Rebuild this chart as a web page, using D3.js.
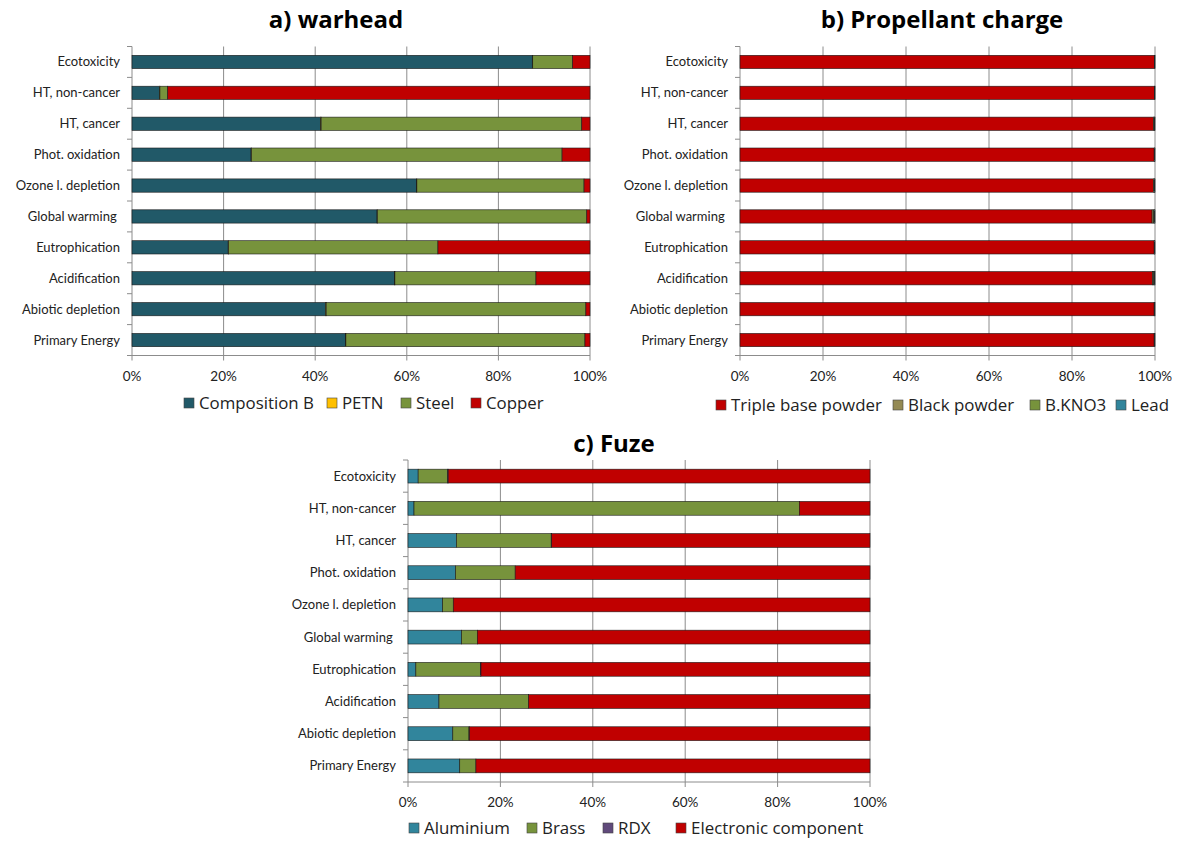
<!DOCTYPE html>
<html><head><meta charset="utf-8">
<script src="https://cdn.jsdelivr.net/npm/d3@7"></script>
<style>body{margin:0;background:#fff}svg{display:block}text{font-family:Lato,"Open Sans",sans-serif;fill:#222}</style>
</head><body>
<svg id="c" width="1177" height="841"></svg>
<script>
const categories = ["Ecotoxicity","HT, non-cancer","HT, cancer","Phot. oxidation","Ozone l. depletion","Global warming\u00a0","Eutrophication","Acidification","Abiotic depletion","Primary Energy"];
const tickLabels = ["0%","20%","40%","60%","80%","100%"];
const tickValues = [0,20,40,60,80,100];

// a) warhead
const warheadSeries = ["Composition B","PETN","Steel","Copper"];
const warheadColors = ["#215968","#FFC000","#77933C","#C00000"];
const compB  = [87.4, 6.0, 41.2, 26.0, 62.1, 53.5, 21.0, 57.3, 42.3, 46.6];
const petn   = [0.1, 0.1, 0.1, 0.1, 0.1, 0.1, 0.1, 0.1, 0.1, 0.1];
const steel  = [8.7, 1.7, 56.9, 67.8, 36.5, 45.7, 45.7, 30.8, 56.7, 52.2];
const copper = [3.8, 92.2, 1.8, 6.1, 1.3, 0.7, 33.2, 11.8, 0.9, 1.1];

// b) propellant charge
const propSeries = ["Triple base powder","Black powder","B.KNO3","Lead"];
const propColors = ["#C00000","#948A54","#77933C","#31859C"];
const tripleBase  = [99.9, 99.9, 99.6, 99.8, 99.6, 99.3, 99.8, 99.4, 99.8, 99.8];
const blackPowder = [0.05, 0.05, 0.2, 0.1, 0.2, 0.4, 0.1, 0.3, 0.1, 0.1];
const bkno3       = [0.0, 0.0, 0.1, 0.0, 0.1, 0.2, 0.0, 0.2, 0.0, 0.0];
const lead        = [0.05, 0.05, 0.1, 0.1, 0.1, 0.1, 0.1, 0.1, 0.1, 0.1];

// c) fuze
const fuzeSeries = ["Aluminium","Brass","RDX","Electronic component"];
const fuzeColors = ["#31859C","#77933C","#604A7B","#C00000"];
const aluminium = [2.2, 1.3, 10.5, 10.3, 7.5, 11.6, 1.7, 6.7, 9.7, 11.2];
const brass     = [6.4, 83.4, 20.5, 12.9, 2.3, 3.4, 14.0, 19.4, 3.5, 3.5];
const rdx       = [0.1, 0.0, 0.1, 0.0, 0.0, 0.0, 0.1, 0.0, 0.1, 0.0];
const electronic= [91.3, 15.3, 68.9, 76.8, 90.2, 85.0, 84.2, 73.9, 86.7, 85.3];

const svg = d3.select("#c");

const panels = [
  {title:"a) warhead", tx:336, ty:28, x0:132, x1:590, top:46.5, bottom:355.5, series:warheadSeries, colors:warheadColors, data:[compB,petn,steel,copper],
   legendXs:[184,327,401,471], legendY:409, legendFirstW:115},
  {title:"b) Propellant charge", tx:942, ty:28, x0:740, x1:1155, top:46.5, bottom:355.5, series:propSeries, colors:propColors, data:[tripleBase,blackPowder,bkno3,lead],
   legendXs:[716,893,1030,1116], legendY:411, legendFirstW:151},
  {title:"c) Fuze", tx:614, ty:452, x0:408, x1:870, top:460, bottom:782, series:fuzeSeries, colors:fuzeColors, data:[aluminium,brass,rdx,electronic],
   legendXs:[409,527,603,676], legendY:834, legendFirstW:86}
];

panels.forEach(p => {
  const g = svg.append("g");
  const x = d3.scaleLinear().domain([0,100]).range([p.x0,p.x1]);
  const y = d3.scaleBand().domain(categories).range([p.top,p.bottom]).paddingInner(0.57).paddingOuter(0.285);
  const yb = d3.scaleBand().domain(categories).range([p.top,p.bottom]);

  g.append("text").attr("x",p.tx).attr("y",p.ty).attr("text-anchor","middle")
    .style("font-family","'Open Sans',sans-serif")
    .style("font-size","24px").style("font-weight","bold").style("fill","#000").text(p.title);

  // gridlines
  g.selectAll("line.grid").data(tickValues.slice(1)).join("line")
    .attr("x1",d=>x(d)).attr("x2",d=>x(d)).attr("y1",p.top).attr("y2",p.bottom+5)
    .attr("stroke","#8c8c8c").attr("stroke-width",1);

  // left axis
  g.append("line").attr("x1",p.x0).attr("x2",p.x0).attr("y1",p.top).attr("y2",p.bottom+5).attr("stroke","#8c8c8c");
  const bounds = categories.map(c=>yb(c)).concat([p.bottom]);
  g.selectAll("line.lt").data(bounds).join("line")
    .attr("x1",p.x0-5).attr("x2",p.x0).attr("y1",d=>d).attr("y2",d=>d).attr("stroke","#8c8c8c");
  // bottom axis
  g.append("line").attr("x1",p.x0).attr("x2",p.x1).attr("y1",p.bottom).attr("y2",p.bottom).attr("stroke","#8c8c8c");

  // tick labels
  g.selectAll("text.tl").data(tickValues).join("text")
    .attr("x",d=>x(d)).attr("y",p.bottom+25).attr("text-anchor","middle")
    .style("font-size","13.5px").text((d,i)=>tickLabels[i]);

  // category labels
  g.selectAll("text.cl").data(categories).join("text")
    .attr("x",p.x0-12).attr("y",d=>yb(d)+yb.bandwidth()/2+4.5).attr("text-anchor","end")
    .style("font-size","13px").text(d=>d);

  // stacked bars
  const rows = categories.map((c,i)=>{const o={cat:c}; p.series.forEach((s,j)=>o[s]=p.data[j][i]); return o;});
  const stack = d3.stack().keys(p.series)(rows);
  stack.forEach((layer,j)=>{
    g.selectAll(null).data(layer).join("rect")
      .attr("x",d=>x(d[0])).attr("width",d=>Math.max(0,x(Math.min(100,d[1]))-x(d[0])))
      .attr("y",d=>y(d.data.cat)).attr("height",y.bandwidth())
      .attr("fill",p.colors[j]).attr("stroke","#1a1a1a").attr("stroke-width",0.6);
  });

  // legend
  const probe = g.append("text").style("font-family","'Open Sans',sans-serif").style("font-size","16px").text(p.series[0]);
  const fs = 16 * p.legendFirstW / probe.node().getComputedTextLength();
  probe.remove();
  p.series.forEach((s,j)=>{
    const lx = p.legendXs[j];
    g.append("rect").attr("x",lx).attr("y",p.legendY-11).attr("width",10).attr("height",10)
      .attr("fill",p.colors[j]).attr("stroke","#444").attr("stroke-width",0.6);
    g.append("text").attr("x",lx+15).attr("y",p.legendY)
      .style("font-family","'Open Sans',sans-serif").style("font-size",fs+"px").text(s);
  });
});
</script>
</body></html>
